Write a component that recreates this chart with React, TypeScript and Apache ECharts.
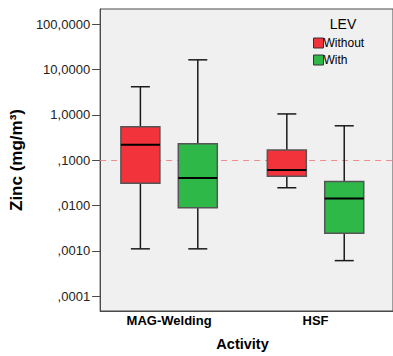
import React, { useEffect, useRef } from "react";
import * as echarts from "echarts";

// ---- data (mg/m³) ----
const categories = ["MAG-Welding", "HSF"];
const groups = ["Without", "With"];
// each: [min, q1, median, q3, max]
const withoutValues = [
  [0.00111, 0.0312, 0.219, 0.547, 4.18],
  [0.0247, 0.0443, 0.0607, 0.168, 1.05],
];
const withValues = [
  [0.00111, 0.00895, 0.0407, 0.23, 16.4],
  [0.00061, 0.00244, 0.01425, 0.034, 0.575],
];
const referenceValue = 0.1;
const yTickValues = [100, 10, 1, 0.1, 0.01, 0.001, 0.0001];
const yTickLabels = ["100,0000", "10,0000", "1,0000", ",1000", ",0100", ",0010", ",0001"];

const FONT = "'Liberation Sans', Arial, Helvetica, sans-serif";
const COLORS = ["#f2333b", "#2eb848"];
const GROUP_OFFSET = [-28.7, 28.7];
const BOX_W = 39;
const CAP_W = 19;

export default function App() {
  const ref = useRef<HTMLDivElement>(null);
  useEffect(() => {
    document.body.style.margin = "0";
    const chart = echarts.init(ref.current!, undefined, { renderer: "svg" });
    const lg = (v: number) => Math.log10(v);
    const makeData = (vals: number[][]) =>
      vals.map((v, i) => [i, ...v.map(lg)]);

    const makeRender = (gi: number) => (params: any, api: any) => {
      const xi = api.value(0);
      const pts = [1, 2, 3, 4, 5].map((d) => api.coord([xi, api.value(d)]));
      const x = pts[0][0] + GROUP_OFFSET[gi];
      const [yMin, yQ1, yMed, yQ3, yMax] = pts.map((p: number[]) => p[1]);
      const wh = { stroke: "#1a1a1a", lineWidth: 1.5 };
      return {
        type: "group",
        children: [
          { type: "line", shape: { x1: x, y1: yMax, x2: x, y2: yQ3 }, style: wh },
          { type: "line", shape: { x1: x, y1: yQ1, x2: x, y2: yMin }, style: wh },
          { type: "line", shape: { x1: x - CAP_W / 2, y1: yMax, x2: x + CAP_W / 2, y2: yMax }, style: wh },
          { type: "line", shape: { x1: x - CAP_W / 2, y1: yMin, x2: x + CAP_W / 2, y2: yMin }, style: wh },
          {
            type: "rect",
            shape: { x: x - BOX_W / 2, y: yQ3, width: BOX_W, height: yQ1 - yQ3 },
            style: { fill: COLORS[gi], stroke: "#555555", lineWidth: 1.5 },
          },
          {
            type: "line",
            shape: { x1: x - BOX_W / 2, y1: yMed, x2: x + BOX_W / 2, y2: yMed },
            style: { stroke: "#000", lineWidth: 2 },
          },
        ],
      };
    };

    const option: any = {
      animation: false,
      textStyle: { fontFamily: FONT },
      grid: {
        left: 97,
        top: 9,
        height: 307,
        width: 310,
        show: true,
        backgroundColor: "#f0f0f0",
        borderColor: "#4a4a4a",
        borderWidth: 1,
      },
      xAxis: {
        type: "value",
        min: -0.471,
        max: 1.529,
        splitLine: { show: false },
        axisTick: { show: false },
        axisLine: { show: true, onZero: false, lineStyle: { color: "#4a4a4a" } },
        axisLabel: {
          customValues: [0, 1],
          formatter: (v: number) => categories[Math.round(v)] ?? "",
          fontFamily: FONT,
          fontSize: 13,
          fontWeight: "bold",
          color: "#000",
          margin: 3,
        },
        name: "Activity",
        nameLocation: "middle",
        nameGap: 25,
        nameTextStyle: {
          fontFamily: FONT,
          fontSize: 14.5,
          fontWeight: "bold",
          color: "#000",
          padding: [0, 8, 0, 0],
        },
      },
      yAxis: {
        type: "value",
        min: -4.326,
        max: 2.336,
        splitLine: { show: false },
        axisLine: { show: true, onZero: false, lineStyle: { color: "#4a4a4a" } },
        axisTick: {
          show: true,
          length: 8,
          customValues: yTickValues.map(lg),
          lineStyle: { color: "#4a4a4a" },
        },
        axisLabel: {
          customValues: yTickValues.map(lg),
          formatter: (v: number) => {
            const i = yTickValues.findIndex((t) => Math.abs(lg(t) - v) < 1e-6);
            return i >= 0 ? yTickLabels[i] : "";
          },
          fontFamily: FONT,
          fontSize: 13,
          color: "#222",
          margin: 10,
        },
        name: "Zinc (mg/m³)",
        nameLocation: "middle",
        nameGap: 72,
        nameTextStyle: { fontFamily: FONT, fontSize: 17, fontWeight: "bold", color: "#000" },
      },
      legend: {
        orient: "vertical",
        left: 313,
        top: 37,
        padding: 0,
        itemWidth: 10,
        itemHeight: 10,
        itemGap: 5,
        icon: "rect",
        textStyle: { fontFamily: FONT, fontSize: 12, color: "#000", padding: [0, 0, 0, -5] },
        data: groups.map((g, i) => ({
          name: g,
          itemStyle: { color: COLORS[i], borderColor: "#333", borderWidth: 1 },
        })),
      },
      graphic: [
        {
          type: "text",
          x: 343,
          y: 24,
          style: {
            text: "LEV",
            font: `14px ${FONT}`,
            fill: "#000",
            textAlign: "center",
            textVerticalAlign: "middle",
          },
        },
      ],
      series: [
        {
          type: "custom",
          name: groups[0],
          renderItem: makeRender(0),
          data: makeData(withoutValues),
          encode: { x: 0, y: [1, 2, 3, 4, 5] },
          itemStyle: { color: COLORS[0] },
          clip: false,
          z: 3,
          markLine: {
            silent: true,
            symbol: "none",
            z: 1,
            label: { show: false },
            lineStyle: { type: [6, 5], color: "#f28b8b", width: 1 },
            data: [{ yAxis: lg(referenceValue) }],
          },
        },
        {
          type: "custom",
          name: groups[1],
          renderItem: makeRender(1),
          data: makeData(withValues),
          encode: { x: 0, y: [1, 2, 3, 4, 5] },
          itemStyle: { color: COLORS[1] },
          clip: false,
          z: 3,
        },
      ],
    };
    chart.setOption(option);
    return () => chart.dispose();
  }, []);
  return <div ref={ref} style={{ width: 393, height: 356 }} />;
}
